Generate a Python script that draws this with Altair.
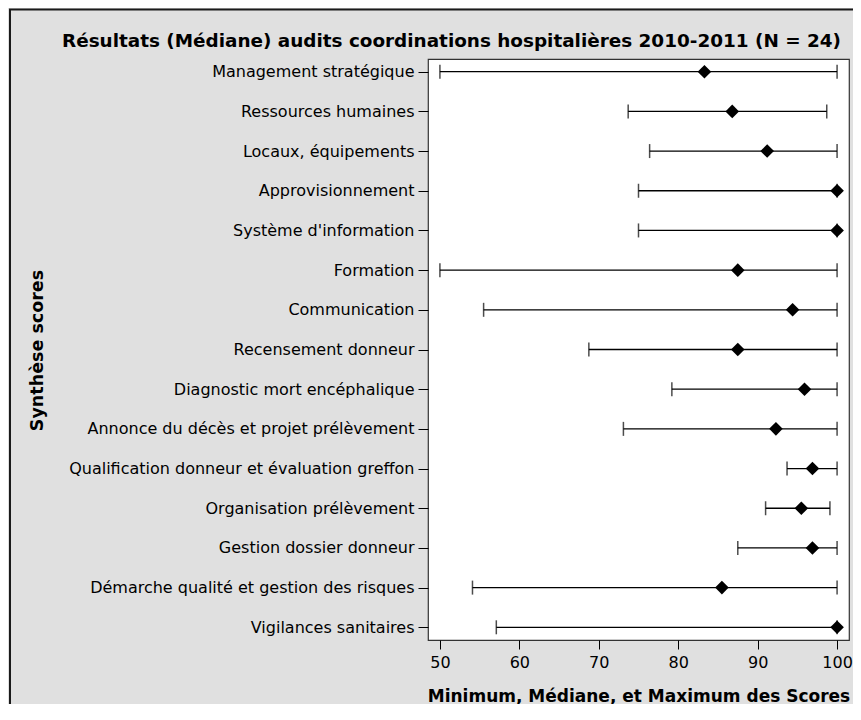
import altair as alt
import pandas as pd

categories = [
    "Management stratégique",
    "Ressources humaines",
    "Locaux, équipements",
    "Approvisionnement",
    "Système d'information",
    "Formation",
    "Communication",
    "Recensement donneur",
    "Diagnostic mort encéphalique",
    "Annonce du décès et projet prélèvement",
    "Qualification donneur et évaluation greffon",
    "Organisation prélèvement",
    "Gestion dossier donneur",
    "Démarche qualité et gestion des risques",
    "Vigilances sanitaires",
]
minimum = [50.0, 73.7, 76.4, 75.0, 75.0, 50.0, 55.5, 68.75, 79.2, 73.1, 93.7, 91.0, 87.5, 54.1, 57.1]
mediane = [83.3, 86.8, 91.2, 100.0, 100.0, 87.5, 94.4, 87.5, 95.9, 92.3, 96.9, 95.5, 96.9, 85.5, 100.0]
maximum = [100.0, 98.7, 100.0, 100.0, 100.0, 100.0, 100.0, 100.0, 100.0, 100.0, 100.0, 99.1, 100.0, 100.0, 100.0]
x_ticks = [50, 60, 70, 80, 90, 100]

df = pd.DataFrame({"cat": categories, "min": minimum, "med": mediane, "max": maximum})

FONT = "DejaVu Sans"

y_enc = alt.Y(
    "cat:N",
    sort=categories,
    scale=alt.Scale(type="point", domain=categories, padding=0.32),
    axis=alt.Axis(
        title="Synthèse scores",
        titleFont=FONT, titleFontSize=17.5, titleFontWeight="bold", titleColor="black",
        titleAngle=-90, titleX=-391, titleY=291, titleAlign="center", titleBaseline="middle",
        labelFont=FONT, labelFontSize=16, labelColor="black", labelPadding=4, labelLimit=0,
        tickSize=10, tickColor="black", domain=False, grid=False,
    ),
)
x_scale = alt.Scale(domain=[48.5, 101.5], nice=False, zero=False)
x_axis = alt.Axis(
    title="Minimum, Médiane, et Maximum des Scores",
    titleFont=FONT, titleFontSize=17, titleFontWeight="bold", titleColor="black",
    titleY=61, titleBaseline="alphabetic",
    values=x_ticks, labelFont=FONT, labelFontSize=16, labelColor="black", labelPadding=5,
    tickSize=9, tickColor="black", domain=False, grid=False,
)

base = alt.Chart(df)

rules = base.mark_rule(color="black", strokeWidth=1.3).encode(
    x=alt.X("min:Q", scale=x_scale, axis=x_axis),
    x2="max:Q",
    y=y_enc,
)
cap_min = base.mark_tick(color="black", thickness=1.5, size=14).encode(
    x=alt.X("min:Q", scale=x_scale), y=alt.Y("cat:N", sort=categories)
)
cap_max = base.mark_tick(color="black", thickness=1.5, size=14).encode(
    x=alt.X("max:Q", scale=x_scale), y=alt.Y("cat:N", sort=categories)
)
points = base.mark_point(shape="diamond", filled=True, color="black", size=185, opacity=1).encode(
    x=alt.X("med:Q", scale=x_scale), y=alt.Y("cat:N", sort=categories)
)

frame_data = alt.Data(values=[{"a": 1}])
left_border = alt.Chart(frame_data).mark_rule(color="#1a1a1a", strokeWidth=2).encode(
    x=alt.value(-418), y=alt.value(-50), y2=alt.value(700)
)
top_border = alt.Chart(frame_data).mark_rule(color="#1a1a1a", strokeWidth=2).encode(
    x=alt.value(-419), x2=alt.value(500), y=alt.value(-49.5)
)

chart = (
    alt.layer(rules, cap_min, cap_max, points, left_border, top_border)
    .properties(
        width=421,
        height=581,
        autosize=alt.AutoSizeParams(type="none"),
        padding={"left": 420, "top": 51, "right": 4, "bottom": 64},
        background="#e0e0e0",
        title=alt.TitleParams(
            "Résultats (Médiane) audits coordinations hospitalières 2010-2011 (N = 24)",
            font=FONT, fontSize=18.4, fontWeight="bold", color="black",
            anchor="middle", frame="group", dx=-187, dy=68, baseline="alphabetic", offset=11,
        ),
    )
    .configure_view(fill="white", stroke="#333333", strokeWidth=1.2)
)

chart.save("out.html", embed_options={"renderer": "svg", "actions": False})
